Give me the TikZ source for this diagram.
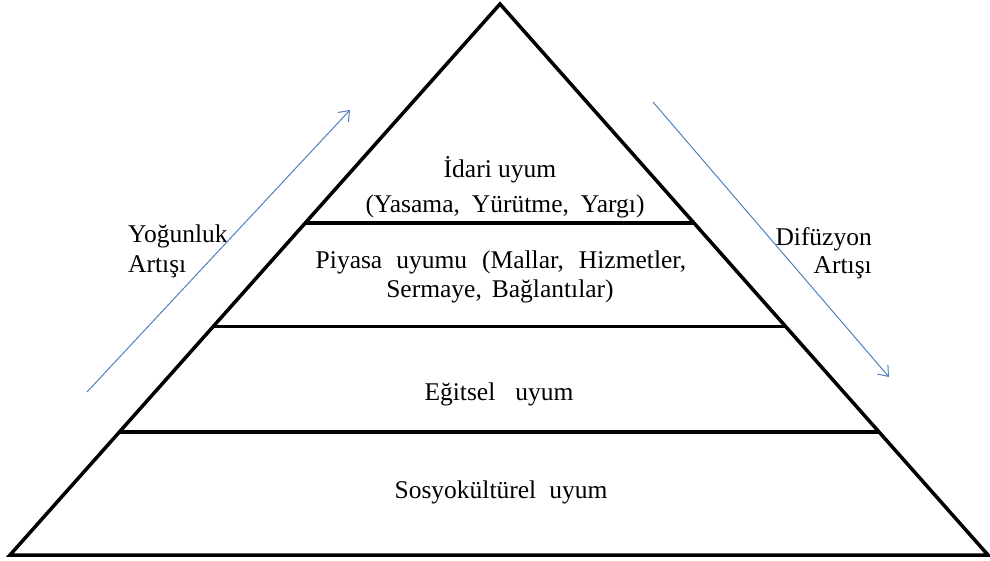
\documentclass[tikz,border=0pt]{standalone}
\usepackage{fontspec}
\setmainfont{Liberation Serif}
\usetikzlibrary{calc,arrows.meta}
\definecolor{arrowblue}{RGB}{79,129,189}
\begin{document}
\begin{tikzpicture}[x=1pt,y=-1pt,
  pline/.style={line width=3.5pt,black},
  lvl/.style={line width=3.5pt,black},
  flow/.style={draw=arrowblue,line width=1pt,-{Straight Barb[length=9pt,width=14pt]}},
  lbl/.style={font=\fontsize{25.5}{30}\selectfont,inner sep=0pt,anchor=base}]
\useasboundingbox (0,0) rectangle (990,560);
\coordinate (apex) at (500,4);
\coordinate (bl) at (10,555);
\coordinate (br) at (988,555);
\draw[pline,line join=miter] (bl) -- (apex) -- (br) -- cycle;
\coordinate (l1) at ($(apex)!0.397!(bl)$);
\coordinate (r1) at ($(apex)!0.397!(br)$);
\coordinate (l2) at ($(apex)!0.585!(bl)$);
\coordinate (r2) at ($(apex)!0.585!(br)$);
\coordinate (l3) at ($(apex)!0.777!(bl)$);
\coordinate (r3) at ($(apex)!0.777!(br)$);
\draw[lvl] (l1) -- (r1);
\draw[lvl] (l2) -- (r2);
\draw[lvl] (l3) -- (r3);
\node[lbl] (t1) at (500,177) {İdari uyum};
\node[lbl] (t1b) at (505,212) {(Yasama,\hspace{12pt}Yürütme,\hspace{12pt}Yargı)};
\node[lbl] (t2) at (501,268) {Piyasa\hspace{14pt}uyumu\hspace{15pt}(Mallar,\hspace{15pt}Hizmetler,};
\node[lbl] (t2b) at (500,297) {Sermaye,\hspace{10pt}Bağlantılar)};
\node[lbl] (t3) at (499,400) {Eğitsel\hspace{20pt}uyum};
\node[lbl] (t4) at (501,498) {Sosyokültürel\hspace{13pt}uyum};
\node[lbl,anchor=base west] (yl) at (128,242) {Yoğunluk};
\node[lbl,anchor=base west] (yl2) at (128,272) {Artışı};
\node[lbl,anchor=base east] (dl) at (872,245) {Difüzyon};
\node[lbl,anchor=base east] (dl2) at (872,273) {Artışı};
\coordinate (a1s) at (87,392);
\coordinate (a1e) at (350,110);
\coordinate (a2s) at (653,102);
\coordinate (a2e) at (889,377);
\draw[flow] (a1s) -- (a1e);
\draw[flow] (a2s) -- (a2e);
\end{tikzpicture}
\end{document}
